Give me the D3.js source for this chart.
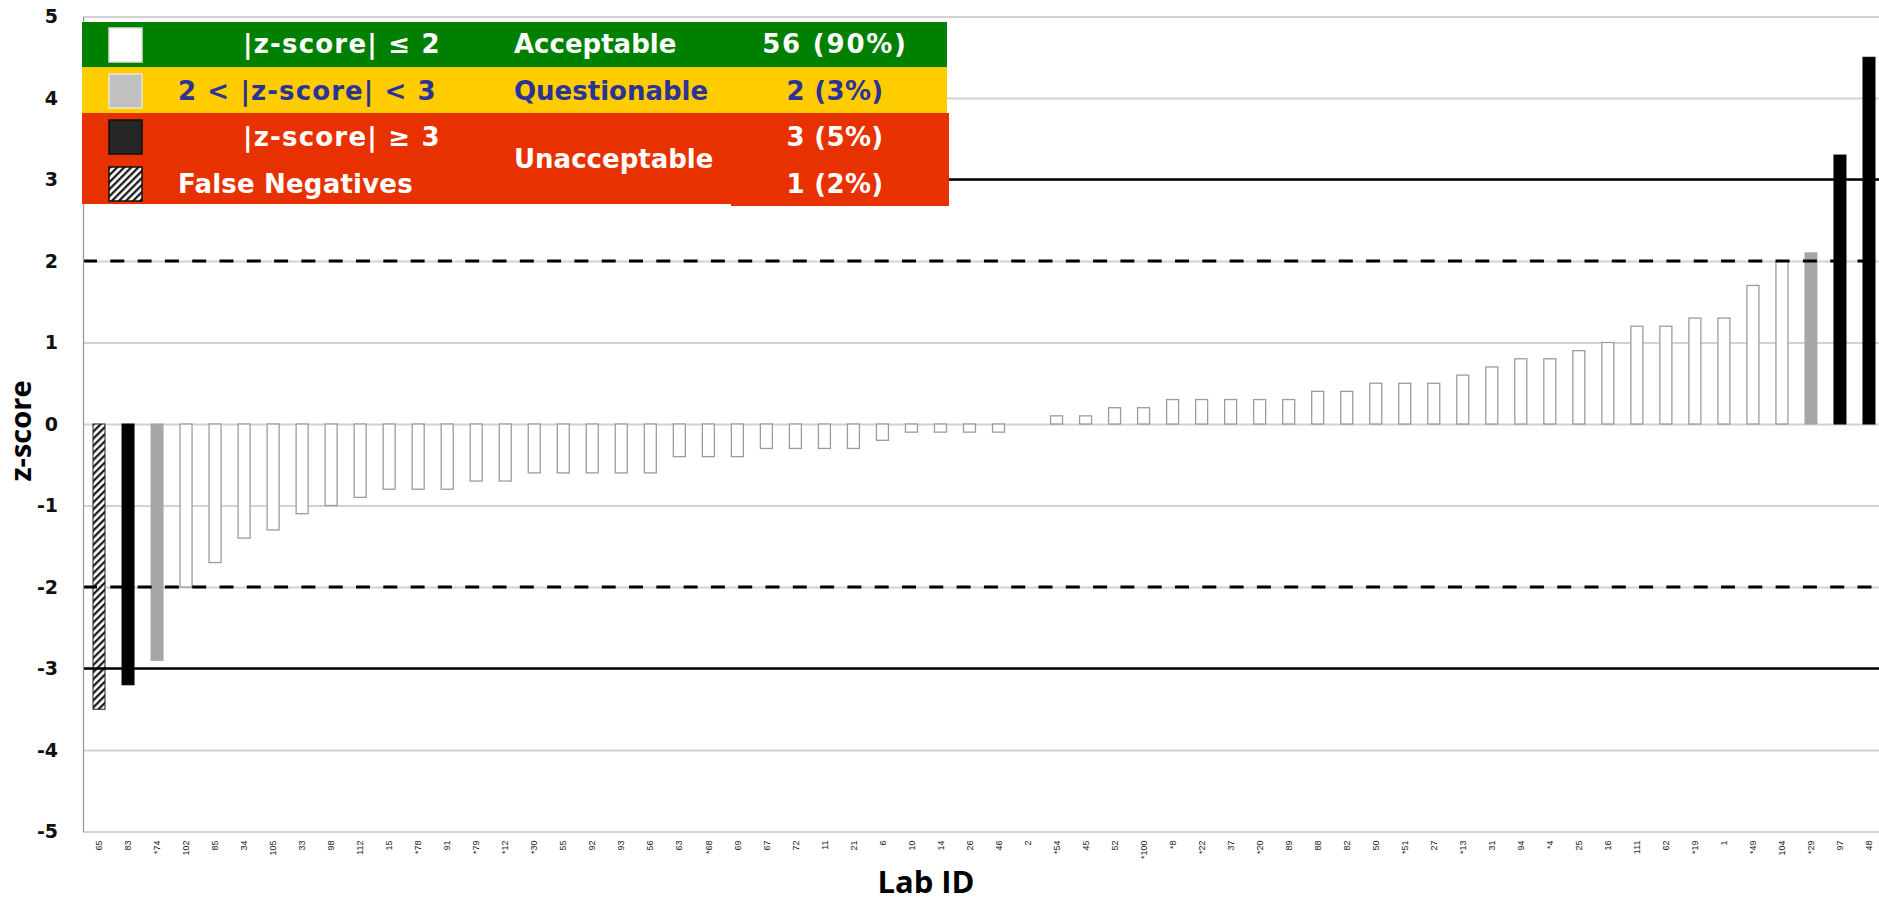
<!DOCTYPE html>
<html>
<head>
<meta charset="utf-8">
<script src="https://cdn.jsdelivr.net/npm/d3@7/dist/d3.min.js"></script>
<style>
  body { margin: 0; background: #fff; }
  svg { display: block; }
</style>
</head>
<body>
<svg id="chart" width="1879" height="902"></svg>
<script>
// Lab IDs in plotted order (sorted by z-score)
const labIds = ["65","83","*74","102","85","34","105","33","98","112","15","*78","91","*79","*12","*30",
  "55","92","93","56","63","*68","69","67","72","11","21","6","10","14","26","46","2","*54","45","52",
  "*100","*8","*22","37","*20","89","88","82","50","*51","27","*13","31","94","*4","25","16","111","62",
  "*19","1","*49","104","*29","97","48"];

// z-score per lab, same order as labIds
const zScores = [-3.5,-3.2,-2.9,-2.0,-1.7,-1.4,-1.3,-1.1,-1.0,-0.9,-0.8,-0.8,-0.8,-0.7,-0.7,-0.6,
  -0.6,-0.6,-0.6,-0.6,-0.4,-0.4,-0.4,-0.3,-0.3,-0.3,-0.3,-0.2,-0.1,-0.1,-0.1,-0.1,0,0.1,0.1,0.2,
  0.2,0.3,0.3,0.3,0.3,0.3,0.4,0.4,0.5,0.5,0.5,0.6,0.7,0.8,0.8,0.9,1.0,1.2,1.2,
  1.3,1.3,1.7,2.0,2.1,3.3,4.5];

// Labs reported as false negatives
const falseNegatives = ["65"];

// Y axis ticks and performance limits
const yTicks = [5,4,3,2,1,0,-1,-2,-3,-4,-5];
const warningLimits = [2,-2];
const actionLimits = [3,-3];

// Legend rows
const legendCriteria = ["|z-score| \u2264 2", "2 < |z-score| < 3", "|z-score| \u2265 3", "False Negatives"];
const legendStatus = ["Acceptable", "Questionable", "Unacceptable"];

const data = labIds.map((id, i) => ({ id, z: zScores[i] }));
function classify(d) {
  if (falseNegatives.includes(d.id)) return "fn";
  const a = Math.abs(d.z);
  if (a <= 2) return "ok";
  if (a < 3) return "warn";
  return "bad";
}
data.forEach(d => d.cls = classify(d));
const counts = {
  ok: data.filter(d => d.cls === "ok").length,
  warn: data.filter(d => d.cls === "warn").length,
  bad: data.filter(d => d.cls === "bad").length,
  fn: data.filter(d => d.cls === "fn").length
};
const pct = n => `${n} (${Math.round(100 * n / data.length)}%)`;

const svg = d3.select("#chart");
const plotLeft = 83, plotTop = 16.5, plotBottom = 831.5, plotRight = 1879;

const x = d3.scaleBand().domain(labIds).range([84.5, 1883.5]).paddingInner(0.5864).paddingOuter(0.2932);
const y = d3.scaleLinear().domain([-5, 5]).range([plotBottom, plotTop]);

// hatch pattern for false negatives
const defs = svg.append("defs");
const pat = defs.append("pattern").attr("id", "hatch").attr("patternUnits", "userSpaceOnUse")
  .attr("width", 5).attr("height", 5).attr("patternTransform", "rotate(45)");
pat.append("rect").attr("width", 5).attr("height", 5).attr("fill", "#fff");
pat.append("line").attr("x1", 1.2).attr("y1", 0).attr("x2", 1.2).attr("y2", 5)
  .attr("stroke", "#111").attr("stroke-width", 2.2);

// horizontal gridlines
const grid = svg.append("g").attr("transform", `translate(${plotLeft},0)`)
  .call(d3.axisLeft(y).tickValues(yTicks).tickSize(-(plotRight - plotLeft)).tickFormat(""));
grid.select(".domain").remove();
grid.selectAll("line").attr("stroke", "#d2d2d2").attr("stroke-width", 2);

// bars
const fills = { ok: "#fff", warn: "#a6a6a6", bad: "#000", fn: "url(#hatch)" };
const strokes = { ok: "#9c9c9c", warn: "#a6a6a6", bad: "#000", fn: "#222" };
svg.append("g").selectAll("rect").data(data).join("rect")
  .attr("x", d => x(d.id))
  .attr("width", x.bandwidth())
  .attr("y", d => y(Math.max(0, d.z)))
  .attr("height", d => Math.abs(y(d.z) - y(0)))
  .attr("fill", d => fills[d.cls])
  .attr("stroke", d => strokes[d.cls])
  .attr("stroke-width", d => d.cls === "ok" ? 1.3 : 1);

// limit lines
svg.append("g").selectAll("line").data(warningLimits).join("line")
  .attr("x1", plotLeft).attr("x2", plotRight)
  .attr("y1", d => y(d)).attr("y2", d => y(d))
  .attr("stroke", "#000").attr("stroke-width", 3.2).attr("stroke-dasharray", "14,13.3");
svg.append("g").selectAll("line").data(actionLimits).join("line")
  .attr("x1", plotLeft).attr("x2", plotRight)
  .attr("y1", d => y(d)).attr("y2", d => y(d))
  .attr("stroke", "#000").attr("stroke-width", 2.6);

// y axis
const yAxis = svg.append("g").attr("transform", `translate(${plotLeft},0)`)
  .call(d3.axisLeft(y).tickValues(yTicks).tickSize(0).tickPadding(25).tickFormat(d => String(d)));
yAxis.select(".domain").attr("stroke", "#9a9a9a").attr("stroke-width", 1.3);
yAxis.selectAll("text").attr("font-family", "DejaVu Sans").attr("font-weight", "bold")
  .attr("font-size", 19).attr("fill", "#111");

// x axis with rotated lab IDs
const xAxis = svg.append("g").attr("transform", `translate(0,${plotBottom})`)
  .call(d3.axisBottom(x).tickSize(0));
xAxis.select(".domain").remove();
xAxis.selectAll("text")
  .attr("transform", "rotate(-90)")
  .attr("text-anchor", "end")
  .attr("x", -9).attr("y", 0).attr("dy", "0.35em")
  .attr("font-family", "Liberation Sans").attr("font-size", 9).attr("fill", "#222");

// axis titles
svg.append("text").attr("transform", "translate(31,431) rotate(-90)")
  .attr("text-anchor", "middle").attr("font-family", "Open Sans").attr("font-weight", "bold")
  .attr("font-size", 29).attr("fill", "#000").text("z-score");
svg.append("text").attr("x", 926).attr("y", 893)
  .attr("text-anchor", "middle").attr("font-family", "Open Sans").attr("font-weight", "bold")
  .attr("font-size", 31).attr("fill", "#000").text("Lab ID");

// legend table
const lg = svg.append("g");
lg.append("rect").attr("x", 82).attr("y", 22).attr("width", 865).attr("height", 45).attr("fill", "#008000");
lg.append("rect").attr("x", 82).attr("y", 67).attr("width", 865).attr("height", 46).attr("fill", "#ffcc00");
lg.append("rect").attr("x", 82).attr("y", 113).attr("width", 865).attr("height", 91).attr("fill", "#e83100");
lg.append("rect").attr("x", 731).attr("y", 113).attr("width", 218).attr("height", 93).attr("fill", "#e83100");

const swatches = [
  { y: 28, fill: "#fff", stroke: "#ddd" },
  { y: 74, fill: "#c0c0c0", stroke: "#e8e8d0" },
  { y: 120, fill: "#262626", stroke: "#111" },
  { y: 167, fill: "url(#hatch)", stroke: "#111" }
];
lg.selectAll("rect.sw").data(swatches).join("rect").attr("class", "sw")
  .attr("x", 109).attr("y", d => d.y).attr("width", 33).attr("height", 34)
  .attr("fill", d => d.fill).attr("stroke", d => d.stroke).attr("stroke-width", 1.5);

const font = sel => sel.attr("font-family", "DejaVu Sans").attr("font-weight", "bold").attr("font-size", 26);
const critX = [243, 178, 243, 178];
const critSpacing = [1.2, 1.1, 1.2, 0.2];
const rowBase = [53, 100, 146, 193];
const rowColor = ["#fff", "#2b3494", "#fff", "#fff"];
legendCriteria.forEach((t, i) => {
  lg.append("text").call(font).attr("x", critX[i]).attr("y", rowBase[i])
    .attr("letter-spacing", critSpacing[i]).attr("fill", rowColor[i]).text(t);
});
const statusBase = [53, 100, 168];
legendStatus.forEach((t, i) => {
  lg.append("text").call(font).attr("x", 514).attr("y", statusBase[i]).attr("fill", rowColor[i]).text(t);
});
[counts.ok, counts.warn, counts.bad, counts.fn].forEach((n, i) => {
  lg.append("text").call(font).attr("x", 835).attr("y", rowBase[i]).attr("text-anchor", "middle")
    .attr("letter-spacing", i === 0 ? 1.8 : 0.3)
    .attr("fill", rowColor[i]).text(pct(n));
});
</script>
</body>
</html>
